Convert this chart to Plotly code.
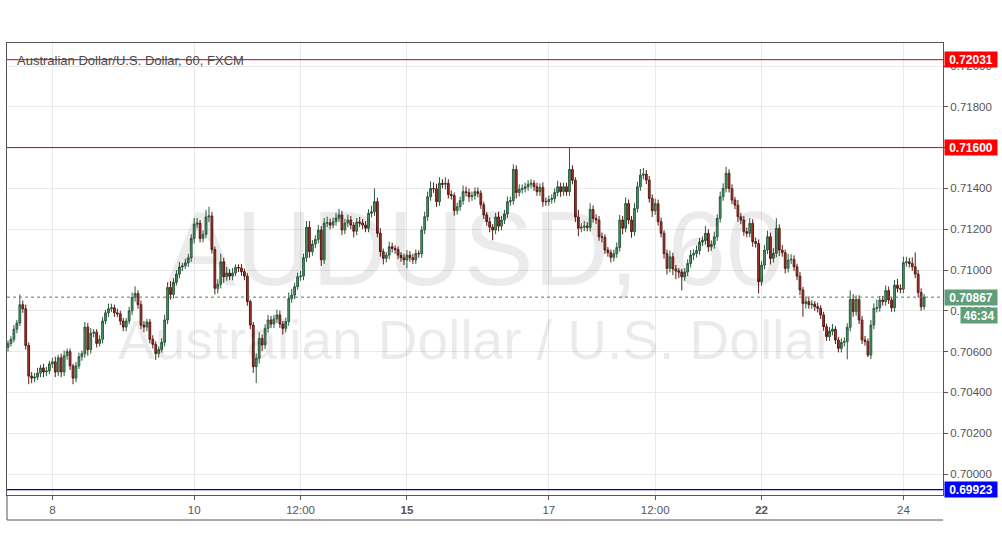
import plotly.graph_objects as go

# ---------------- data (prices in pips, AUD/USD hourly, FXCM) ----------------
first_open_pips = 7062.0
close_pips = [
    7064, 7066, 7071, 7074, 7083, 7081, 7063, 7048, 7047, 7047.5,
    7049.5, 7052, 7050, 7050.5, 7054, 7055, 7050, 7057, 7050, 7058,
    7060, 7053, 7047, 7053, 7057.5, 7059, 7072, 7061, 7069, 7069.5,
    7064, 7066, 7075, 7079, 7081, 7081.5, 7079, 7078.5, 7075, 7072,
    7075, 7080, 7086.5, 7088.5, 7083, 7073, 7072, 7074.5, 7066, 7063.5,
    7059, 7061, 7064.5, 7075.5, 7091.5, 7088, 7094, 7098, 7101.5, 7102,
    7103.5, 7106, 7115.5, 7122.5, 7123, 7115.5, 7117.5, 7126, 7126.5, 7110,
    7091, 7093, 7104, 7096.7, 7098.5, 7097, 7098.5, 7101.3, 7101, 7099.2,
    7097, 7084.5, 7073, 7052.6, 7056.7, 7066.5, 7063.2, 7071.4, 7075.5, 7073.5,
    7076, 7078, 7073.5, 7071.4, 7074.7, 7086, 7087.7, 7091.8, 7096.7, 7097,
    7106, 7121, 7109, 7112.7, 7115, 7119.6, 7105, 7123, 7123.2, 7122,
    7123.7, 7125.5, 7127, 7119.6, 7123, 7124.5, 7122, 7119, 7123.5, 7123,
    7122, 7120.5, 7127.8, 7128.5, 7133.5, 7118, 7109, 7105.7, 7107.3, 7111.4,
    7110.6, 7110, 7107.3, 7106, 7104.9, 7107.3, 7106, 7105, 7108.1, 7108,
    7119.6, 7126.1, 7135.9, 7140, 7139.8, 7133.5, 7142.5, 7142, 7142.5, 7137,
    7136.5, 7129.1, 7131, 7134, 7138.4, 7138, 7135.9, 7136.5, 7138.4, 7137.6,
    7132, 7127, 7123.7, 7121, 7119.6, 7126, 7121.5, 7124.5, 7127.5, 7133.5,
    7134, 7149.3, 7138, 7139.5, 7140, 7140.8, 7142, 7142.5, 7140.8, 7138.4,
    7140.5, 7133.5, 7133.5, 7134.5, 7135, 7138, 7140.8, 7138.4, 7140.8, 7138.4,
    7149.3, 7144, 7126, 7120.5, 7121, 7121.5, 7120.9, 7129.7, 7125.3, 7124.5,
    7116.3, 7116, 7109.8, 7108.5, 7106.2, 7108, 7111, 7124.5, 7120.5, 7132.6,
    7124.5, 7118.8, 7130.2, 7140.8, 7146.5, 7147, 7144.1, 7135.1, 7129, 7132.5,
    7123.7, 7118, 7108, 7100.8, 7106.5, 7100.5, 7099.5, 7099, 7096.7, 7099,
    7103.2, 7107.3, 7108.1, 7109.5, 7113.7, 7114.5, 7118, 7111.4, 7112.5, 7116.3,
    7125.3, 7135.9, 7140, 7147.4, 7140, 7134.3, 7131.8, 7126.1, 7124.5, 7118.8,
    7118, 7122.9, 7113.9, 7113, 7094.3, 7102.4, 7109.8, 7116.3, 7105.7, 7108.2,
    7120.4, 7109.8, 7108.5, 7100.8, 7104.9, 7105.2, 7101.6, 7097, 7090.2, 7083.6,
    7084.5, 7083, 7083.3, 7082, 7081.2, 7078, 7072.2, 7067.3, 7070, 7071,
    7065.7, 7061.6, 7064.5, 7064.9, 7071.9, 7085.6, 7079.6, 7085.6, 7075.5, 7065.7,
    7064.9, 7058.3, 7073, 7081.2, 7081.5, 7085.3, 7084.5, 7089.9, 7085.3, 7081.5,
    7092.6, 7091, 7090.6, 7103.6, 7104, 7103.2, 7101.6, 7098, 7089, 7082,
    7086.7,
]
upper_wick_pips = [
    1.5, 1.5, 2, 1.5, 5, 2, 2, 1.5, 2, 2,
    2.5, 1.5, 2, 2, 1.5, 2, 2.5, 1.5, 2, 2.5,
    1.5, 1.5, 1, 2, 2, 1.5, 2.5, 2, 2.5, 1.5,
    1.5, 2, 2, 1.5, 2.5, 2, 1.5, 2, 1.5, 1.5,
    1.5, 2, 2.5, 3.5, 1.5, 2, 2, 1.5, 1.5, 2,
    1.5, 1.5, 2, 2.5, 2.5, 3, 2, 2, 2.5, 1.5,
    2, 2, 2, 3, 2.5, 1.5, 2, 3.5, 4.5, 2,
    1.5, 2.5, 4, 2, 3, 2, 2.5, 1.5, 1.5, 2,
    1.5, 1.5, 1, 1.5, 2.5, 3, 2, 2, 2.5, 2,
    2, 2.5, 2, 1.5, 2, 3, 3, 2, 2, 2.5,
    2, 3, 3, 2, 2, 2.5, 2, 2.5, 3, 2,
    2, 2.5, 3, 2, 2, 2.5, 2, 1.5, 2, 2.5,
    2, 2, 2, 3, 6.5, 2, 2.5, 1.5, 1.5, 2.5,
    2, 1.5, 1.5, 1.5, 2, 2.5, 2, 2, 2, 1.5,
    2, 2.5, 2.5, 3.5, 3, 2.5, 3, 2, 3, 2,
    2, 1.5, 2, 2, 3, 2.5, 2, 2, 2, 2,
    1.5, 1.5, 1.5, 2, 1.5, 2, 2.5, 2, 2, 2.5,
    2, 2.5, 2, 2.5, 2, 2, 2, 2, 1.5, 2,
    2, 2.5, 2, 2, 2, 2, 3, 2, 2, 2,
    10.7, 2, 1.5, 3.5, 2, 2.5, 2, 3, 2, 2,
    2, 2, 1.5, 1.5, 1.5, 2, 2.5, 2.5, 2, 3,
    2, 2, 2.5, 2.5, 3, 3, 2, 2, 2, 2.5,
    2, 2, 1.5, 2, 3, 2, 2, 1.5, 1.5, 2,
    2, 2.5, 2, 2.5, 2, 2, 3.5, 2, 2, 2.5,
    2, 2.5, 2.5, 3.2, 2, 2, 1.5, 2.5, 2, 2,
    2, 2.5, 2, 2, 2, 2, 2.5, 3, 2, 2.5,
    5, 2, 2.5, 1.5, 3, 2.5, 2, 1.5, 2, 1.5,
    2, 2.5, 2, 1.5, 2, 1.5, 1.5, 1.5, 2, 2.5,
    1.5, 1.5, 2, 2, 2, 4.4, 2.5, 2, 2, 2,
    2, 1.5, 2.5, 2.5, 4, 2, 2, 2.5, 2, 1.5,
    2.5, 3, 2, 2.9, 2.5, 2, 3, 7, 2, 2,
    1.5,
]
lower_wick_pips = [
    2, 1.5, 1.5, 2, 1.5, 2, 2, 4, 2.5, 2,
    1.5, 2, 2.5, 2, 1.5, 2, 2.5, 2, 2.5, 2,
    2, 2, 3, 2, 1.5, 2, 2, 3, 2, 2,
    2, 1.5, 2, 1.5, 2, 1.5, 2, 1.5, 2, 2,
    2, 1.5, 2, 2, 2, 2, 2.5, 2, 2, 2,
    3, 2, 1.5, 2, 2, 2.5, 2, 1.5, 2, 2,
    1.5, 2, 2, 2.5, 2, 2, 2, 2, 2.5, 2,
    3, 2.5, 2, 3, 2, 2, 2, 1.5, 2, 2,
    2, 2, 2, 3, 8, 2.5, 3, 2, 2, 2,
    2, 2, 2, 3, 2, 2, 2, 2, 1.5, 2,
    2, 2, 3, 2, 2, 2, 3, 2, 2, 2,
    1.5, 2, 2, 2.5, 2, 2, 2, 3, 2, 2,
    2, 2, 2, 2, 2, 2, 2.5, 3, 2, 2,
    2, 2, 2, 2, 2.5, 4, 2, 2, 2, 2,
    2, 2, 2, 2, 2, 2.5, 2, 2, 2.5, 2,
    2, 2.5, 2, 2, 2, 2, 2.5, 2, 2, 2,
    2, 2, 2, 2.5, 5, 2, 2.5, 2, 2, 2,
    2, 2, 3, 2, 2, 2, 2, 2, 2, 2,
    2, 2.5, 2, 2, 2, 2, 2, 2.5, 2, 2,
    2, 2, 2.5, 4, 2, 2, 2, 2, 2, 2,
    2, 2.5, 2, 2, 2.5, 2, 2, 2, 3, 2,
    2, 3, 2, 2, 2, 2, 2, 2, 3, 2,
    2, 2, 2.5, 3, 2, 3, 4, 3, 6.7, 2,
    2, 2, 2.5, 2, 2, 2, 2, 2.5, 2, 2,
    2, 2, 2, 2, 2, 2, 2, 2.5, 2, 2,
    2, 2, 2.5, 2, 5.8, 2, 2, 2, 3, 2,
    2, 3, 2, 2.5, 2, 2, 2, 2, 2.5, 6.5,
    2.5, 2, 2, 2, 2, 2, 2, 2, 2, 2,
    2, 2, 2, 2, 8.7, 2, 2.5, 2, 2, 2,
    2, 1, 2, 2, 2, 2, 2, 2, 2, 2,
    2, 2, 2, 2, 2, 2, 2, 2, 2.5, 2,
    1.5,
]

tick_index = [15, 63, 99, 135, 183, 219, 255, 303]
tick_labels = ["8", "10", "12:00", "<b>15</b>", "17", "12:00", "<b>22</b>", "24"]

resistance_levels = [0.72031, 0.71600]
support_levels = [0.69923]
countdown = "46:34"
price_ticks = [0.700, 0.702, 0.704, 0.706, 0.708, 0.710, 0.712, 0.714, 0.716, 0.718, 0.720]

# ---------------- build OHLC ----------------
PIP = 10000.0
closes = [c / PIP for c in close_pips]
opens = [first_open_pips / PIP] + closes[:-1]
highs = [max(o, c) + w / PIP for o, c, w in zip(opens, closes, upper_wick_pips)]
lows = [min(o, c) - w / PIP for o, c, w in zip(opens, closes, lower_wick_pips)]
idx = list(range(len(closes)))
last_price = closes[-1]

FONT = "Liberation Sans, Arial, sans-serif"
AX = "#555555"
PLOT_W, PLOT_H = 936, 452

fig = go.Figure()
fig.add_trace(go.Candlestick(
    x=idx, open=opens, high=highs, low=lows, close=closes,
    increasing=dict(fillcolor="#4f9a6e", line=dict(color="#2b5a3d", width=1)),
    decreasing=dict(fillcolor="#a8342a", line=dict(color="#5a1c15", width=1)),
    whiskerwidth=0, showlegend=False, hoverinfo="skip",
))

shapes = []
for lv in resistance_levels:
    shapes.append(dict(type="line", xref="paper", x0=0, x1=1, yref="y", y0=lv, y1=lv,
                       line=dict(color="#d40000", width=1)))
for lv in support_levels:
    shapes.append(dict(type="line", xref="paper", x0=0, x1=1, yref="y", y0=lv, y1=lv,
                       line=dict(color="#0000a8", width=1.3)))
shapes.append(dict(type="line", xref="paper", x0=0, x1=1, yref="y", y0=last_price, y1=last_price,
                   line=dict(color="#3d8b5a", width=1, dash="dot")))
# time-axis frame below the plot
tb = -25 / PLOT_H
shapes.append(dict(type="line", xref="paper", yref="paper", x0=0, x1=0, y0=tb, y1=0,
                   line=dict(color=AX, width=1)))
shapes.append(dict(type="line", xref="paper", yref="paper", x0=0, x1=1, y0=tb, y1=tb,
                   line=dict(color=AX, width=1)))

ann = []
# watermark
ann.append(dict(text="AUDUSD, 60", xref="paper", yref="paper", x=0.5, y=0.545,
                showarrow=False, font=dict(family=FONT, size=105, color="rgba(0,0,0,0.08)")))
ann.append(dict(text="Australian Dollar / U.S. Dollar", xref="paper", yref="paper", x=0.5, y=0.342,
                showarrow=False, font=dict(family=FONT, size=55, color="rgba(0,0,0,0.08)")))
# title
ann.append(dict(text="Australian Dollar/U.S. Dollar, 60, FXCM", xref="paper", yref="paper",
                x=8 / PLOT_W, y=(452 - 17) / PLOT_H, xanchor="left", yanchor="middle", showarrow=False,
                font=dict(family=FONT, size=13, color="#4a4a4a")))
# price tags
def tag(y, text, bg, width=52, xoff=1):
    return dict(text="<b>%s</b>" % text, xref="paper", yref="y", x=1 + xoff / PLOT_W, y=y,
                xanchor="left", yanchor="middle", showarrow=False, width=width, height=15,
                bgcolor=bg, borderpad=0, align="center",
                font=dict(family=FONT, size=12, color="white"))
for lv in resistance_levels:
    ann.append(tag(lv, "%.5f" % lv, "#ff0000"))
for lv in support_levels:
    ann.append(tag(lv, "%.5f" % lv, "#0000ff"))
ann.append(tag(last_price, "%.5f" % last_price, "#5f9e78"))
cd = tag(last_price, countdown, "#5f9e78", width=36, xoff=17)
cd["yshift"] = -18
ann.append(cd)

fig.update_layout(
    width=1002, height=557,
    margin=dict(l=7, r=59, t=43, b=62, autoexpand=False),
    paper_bgcolor="white", plot_bgcolor="white",
    font=dict(family=FONT, color=AX),
    boxgap=0.15,
    shapes=shapes, annotations=ann,
    xaxis=dict(range=[-0.34, 316.4], tickvals=tick_index, ticktext=tick_labels,
               showgrid=True, gridcolor="#e9e9e9", gridwidth=1, zeroline=False,
               showline=True, mirror=True, linecolor=AX, linewidth=1,
               ticks="outside", ticklen=4, tickcolor=AX,
               tickfont=dict(family=FONT, size=11.5, color=AX),
               rangeslider=dict(visible=False), fixedrange=True, automargin=False),
    yaxis=dict(side="right", range=[0.6989706, 0.7211275], tickvals=price_ticks,
               ticktext=["%.5f" % t for t in price_ticks],
               showgrid=True, gridcolor="#e9e9e9", gridwidth=1, zeroline=False,
               showline=True, mirror=True, linecolor=AX, linewidth=1,
               ticks="outside", ticklen=4, tickcolor=AX,
               tickfont=dict(family=FONT, size=11.5, color=AX), fixedrange=True, automargin=False),
)

fig.write_html(
    "out.html",
    config={"displayModeBar": False},
    post_script="document.body.style.margin='0';document.body.style.overflow='hidden';",
)
